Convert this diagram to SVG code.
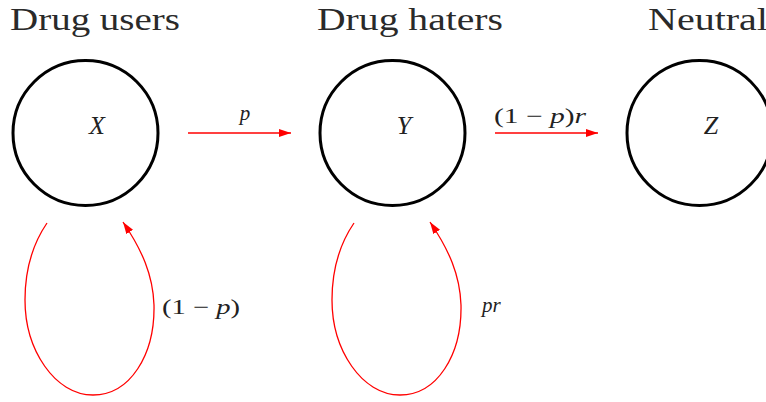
<svg xmlns="http://www.w3.org/2000/svg" width="766" height="402" viewBox="0 0 766 402">
<style>
.title{font-family:"Liberation Serif","DejaVu Serif",serif;font-size:31px;fill:#2a2a2a}
.math{font-family:"Liberation Serif","DejaVu Serif",serif;font-style:italic;font-size:21px;fill:#222}
.big{font-family:"Liberation Serif","DejaVu Serif",serif;font-style:italic;font-size:26px;fill:#222}
.up{font-family:"Liberation Serif","DejaVu Serif",serif;font-size:21px;fill:#222}
.node{fill:#fff;stroke:#000;stroke-width:3}
.edge{fill:none;stroke:#ff0000;stroke-width:1.3}
</style>
<defs>
<marker id="ah" viewBox="0 0 12 8" refX="12" refY="4" markerWidth="12" markerHeight="8" markerUnits="userSpaceOnUse" orient="auto">
<path d="M0,0 L12,4 L0,8 Z" fill="#ff0000"/>
</marker>
</defs>
<g id="connectors">
<line class="edge" x1="188" y1="133" x2="291" y2="133" marker-end="url(#ah)"/>
<line class="edge" x1="495" y1="133" x2="598" y2="133" marker-end="url(#ah)"/>
<path class="edge" d="M47,223 C32,245 25,272 25,300 C25,350 55,395 93,395 C130,395 155,355 154,305 C153,275 142,250 123,222" marker-end="url(#ah)"/>
<path class="edge" d="M354,223 C339,245 332,272 332,300 C332,350 362,395 400,395 C437,395 462,355 461,305 C460,275 449,250 430,222" marker-end="url(#ah)"/>
<text class="math" x="245" y="120" text-anchor="middle">p</text>
<text class="up" x="494" y="123" textLength="92" lengthAdjust="spacingAndGlyphs">(1 − <tspan font-style="italic">p</tspan>)<tspan font-style="italic">r</tspan></text>
<text class="up" x="162" y="314" textLength="78" lengthAdjust="spacingAndGlyphs">(1 − <tspan font-style="italic">p</tspan>)</text>
<text class="math" x="482" y="312">pr</text>
</g>
<g id="node-x">
<text class="title" x="10" y="30" textLength="170" lengthAdjust="spacingAndGlyphs">Drug users</text>
<circle class="node" cx="85.5" cy="133" r="72.5"/>
<text class="big" x="97" y="134" text-anchor="middle">X</text>
</g>
<g id="node-y">
<text class="title" x="317" y="30" textLength="186" lengthAdjust="spacingAndGlyphs">Drug haters</text>
<circle class="node" cx="392.5" cy="133" r="72.5"/>
<text class="big" x="404" y="134" text-anchor="middle">Y</text>
</g>
<g id="node-z">
<text class="title" x="648" y="30" textLength="120" lengthAdjust="spacingAndGlyphs">Neutral</text>
<circle class="node" cx="699.5" cy="133" r="72.5"/>
<text class="big" x="711" y="134" text-anchor="middle">Z</text>
</g>
</svg>
